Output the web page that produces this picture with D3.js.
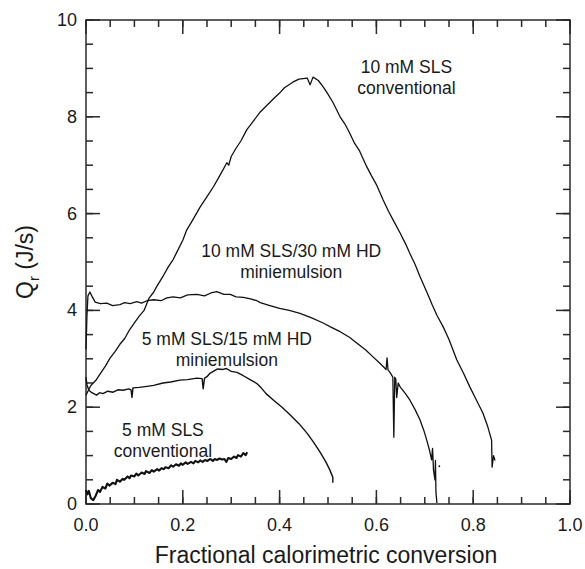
<!DOCTYPE html>
<html>
<head>
<meta charset="utf-8">
<script src="https://cdn.jsdelivr.net/npm/d3@7"></script>
<style>
  html, body { margin: 0; padding: 0; background: #fff; }
  svg text { font-family: "Liberation Sans", Arial, sans-serif; fill: #1a1a1a; }
</style>
</head>
<body>
<div id="chart"></div>
<script>
// values (x = fractional conversion, y = Qr in J/s)
const conv10Sls = [[0,2.25],[0.005,2.35],[0.01,2.45],[0.02,2.55],[0.03,2.7],[0.04,2.85],[0.05,3.02],[0.06,3.15],[0.07,3.3],[0.08,3.42],[0.09,3.6],[0.1,3.74],[0.11,3.88],[0.12,4.0],[0.13,4.25],[0.14,4.38],[0.146,4.49],[0.16,4.72],[0.17,4.9],[0.18,5.05],[0.188,5.21],[0.2,5.45],[0.208,5.66],[0.22,5.86],[0.236,6.14],[0.25,6.35],[0.263,6.55],[0.275,6.76],[0.291,7.05],[0.295,7.0],[0.3,7.18],[0.31,7.35],[0.32,7.5],[0.332,7.73],[0.345,7.9],[0.36,8.1],[0.375,8.25],[0.39,8.4],[0.4,8.49],[0.41,8.6],[0.428,8.72],[0.44,8.78],[0.457,8.8],[0.463,8.66],[0.469,8.82],[0.48,8.75],[0.49,8.62],[0.498,8.5],[0.51,8.3],[0.525,8.0],[0.535,7.85],[0.545,7.66],[0.555,7.45],[0.565,7.3],[0.58,6.97],[0.59,6.78],[0.6,6.6],[0.614,6.28],[0.625,6.05],[0.635,5.86],[0.649,5.6],[0.66,5.38],[0.669,5.18],[0.68,4.95],[0.69,4.7],[0.705,4.36],[0.715,4.12],[0.725,3.9],[0.738,3.66],[0.75,3.4],[0.766,2.98],[0.78,2.7],[0.793,2.42],[0.805,2.18],[0.82,1.88],[0.83,1.6],[0.838,1.32],[0.839,0.76],[0.842,1.0],[0.845,0.9]];

const mini10Sls = [[0,3.2],[0.002,3.9],[0.004,4.3],[0.008,4.38],[0.012,4.3],[0.019,4.17],[0.03,4.14],[0.043,4.15],[0.055,4.1],[0.07,4.12],[0.08,4.16],[0.091,4.14],[0.105,4.18],[0.115,4.15],[0.126,4.2],[0.14,4.22],[0.155,4.2],[0.167,4.26],[0.18,4.28],[0.195,4.26],[0.21,4.32],[0.229,4.33],[0.245,4.3],[0.258,4.36],[0.27,4.39],[0.285,4.33],[0.298,4.33],[0.31,4.28],[0.325,4.27],[0.34,4.24],[0.353,4.2],[0.36,4.16],[0.38,4.1],[0.4,4.04],[0.42,4.0],[0.442,3.94],[0.465,3.85],[0.49,3.74],[0.505,3.66],[0.525,3.56],[0.545,3.44],[0.56,3.32],[0.578,3.18],[0.593,3.04],[0.605,2.93],[0.614,2.84],[0.62,2.78],[0.622,3.02],[0.624,2.77],[0.628,2.72],[0.634,2.62],[0.636,1.38],[0.638,2.62],[0.64,2.58],[0.642,2.2],[0.645,2.5],[0.649,2.42],[0.66,2.28],[0.669,2.15],[0.68,1.95],[0.69,1.74],[0.698,1.52],[0.704,1.32],[0.71,1.1],[0.714,0.91],[0.716,1.15],[0.718,0.7],[0.721,0.5],[0.722,0.9],[0.723,0.25],[0.725,0.02]];

const mini5Sls = [[0,2.62],[0.002,2.46],[0.006,2.35],[0.012,2.3],[0.022,2.25],[0.028,2.3],[0.035,2.28],[0.045,2.33],[0.056,2.31],[0.066,2.36],[0.077,2.35],[0.088,2.38],[0.093,2.36],[0.095,2.2],[0.097,2.4],[0.11,2.41],[0.126,2.43],[0.14,2.45],[0.159,2.5],[0.175,2.52],[0.194,2.56],[0.21,2.57],[0.229,2.6],[0.24,2.59],[0.242,2.38],[0.245,2.6],[0.25,2.63],[0.256,2.7],[0.263,2.74],[0.272,2.79],[0.283,2.78],[0.29,2.8],[0.3,2.74],[0.312,2.72],[0.325,2.65],[0.339,2.57],[0.353,2.49],[0.362,2.4],[0.372,2.28],[0.387,2.15],[0.405,2.0],[0.421,1.85],[0.44,1.66],[0.457,1.46],[0.47,1.28],[0.483,1.08],[0.495,0.88],[0.504,0.7],[0.51,0.55],[0.51,0.44]];

const conv5Sls = [[0,0.29],[0.003,0.2],[0.006,0.27],[0.01,0.12],[0.015,0.08],[0.02,0.17],[0.025,0.29],[0.029,0.25],[0.034,0.35],[0.04,0.32],[0.044,0.42],[0.049,0.38],[0.055,0.44],[0.061,0.41],[0.064,0.5],[0.07,0.46],[0.076,0.52],[0.079,0.5],[0.086,0.57],[0.09,0.53],[0.093,0.59],[0.1,0.57],[0.104,0.63],[0.108,0.59],[0.115,0.65],[0.121,0.62],[0.124,0.68],[0.131,0.64],[0.136,0.7],[0.14,0.67],[0.147,0.72],[0.151,0.69],[0.156,0.74],[0.161,0.72],[0.164,0.76],[0.171,0.74],[0.176,0.8],[0.18,0.77],[0.186,0.82],[0.192,0.79],[0.196,0.84],[0.2,0.81],[0.206,0.86],[0.21,0.83],[0.217,0.87],[0.222,0.84],[0.226,0.89],[0.232,0.86],[0.236,0.9],[0.241,0.87],[0.246,0.91],[0.251,0.89],[0.257,0.93],[0.262,0.89],[0.266,0.93],[0.271,0.91],[0.276,0.94],[0.281,0.92],[0.286,0.93],[0.29,0.87],[0.294,0.95],[0.3,0.93],[0.306,0.98],[0.311,0.95],[0.314,1.01],[0.32,0.98],[0.325,1.05],[0.33,1.01],[0.333,1.07]];

const strayPoints = [[0.73,0.78]];

const xMajorTicks = [0, 0.2, 0.4, 0.6, 0.8, 1.0];
const yMajorTicks = [0, 2, 4, 6, 8, 10];

const annotations = [
  { x: 0.662, y: 8.9, lines: ["10 mM SLS", "conventional"] },
  { x: 0.424, y: 5.1, lines: ["10 mM SLS/30 mM HD", "miniemulsion"] },
  { x: 0.291, y: 3.29, lines: ["5 mM SLS/15 mM HD", "miniemulsion"] },
  { x: 0.159, y: 1.4, lines: ["5 mM SLS", "conventional"] }
];

const W = 585, H = 569;
const margin = { top: 20, right: 15, bottom: 65, left: 86 };
const plotW = W - margin.left - margin.right;
const plotH = H - margin.top - margin.bottom;

const svg = d3.select("#chart").append("svg").attr("width", W).attr("height", H);
const chart = svg.append("g").attr("transform", `translate(${margin.left},${margin.top})`);

const x = d3.scaleLinear().domain([0, 1]).range([0, plotW]);
const y = d3.scaleLinear().domain([0, 10]).range([plotH, 0]);

const xMinor = d3.range(0, 21).map(i => i * 0.05);
const yMinor = d3.range(0, 21).map(i => i * 0.5);
const axisColor = "#2a2a2a";

chart.append("rect").attr("width", plotW).attr("height", plotH)
  .attr("fill", "none").attr("stroke", axisColor).attr("stroke-width", 1.5);

// inward ticks on all four sides
const tickG = chart.append("g").attr("fill", axisColor);
function addTicks(xv, yv, len) {
  [plotH - len, 0].forEach(top => {
    tickG.selectAll(null).data(xv).enter().append("rect")
      .attr("x", d => x(d) - 0.75).attr("y", top).attr("width", 1.5).attr("height", len);
  });
  [0, plotW - len].forEach(left => {
    tickG.selectAll(null).data(yv).enter().append("rect")
      .attr("y", d => y(d) - 0.75).attr("x", left).attr("height", 1.5).attr("width", len);
  });
}
addTicks(xMinor, yMinor, 7);
addTicks(xMajorTicks, yMajorTicks, 14);

// tick labels
chart.selectAll(".xl").data(xMajorTicks).enter().append("text")
  .attr("x", d => x(d)).attr("y", plotH + 27).attr("text-anchor", "middle")
  .style("font-size", "18px").text(d3.format(".1f"));
chart.selectAll(".yl").data(yMajorTicks).enter().append("text")
  .attr("x", -9).attr("y", d => y(d) + 6).attr("text-anchor", "end")
  .style("font-size", "18px").text(d3.format("d"));

const line = d3.line().x(d => x(d[0])).y(d => y(d[1]));

[
  { data: conv10Sls, w: 1.3 },
  { data: mini10Sls, w: 1.3 },
  { data: mini5Sls, w: 1.4 },
  { data: conv5Sls, w: 2.1 }
].forEach(s => {
  chart.append("path").datum(s.data)
    .attr("fill", "none").attr("stroke", "#111").attr("stroke-width", s.w)
    .attr("stroke-linejoin", "round").attr("d", line);
});

chart.selectAll(".stray").data(strayPoints).enter().append("circle")
  .attr("cx", d => x(d[0])).attr("cy", d => y(d[1])).attr("r", 0.9).attr("fill", "#111");

// curve labels, one text element per line
annotations.forEach(a => {
  a.lines.forEach((s, i) => {
    chart.append("text").attr("text-anchor", "middle")
      .attr("x", x(a.x)).attr("y", y(a.y) + i * 21)
      .style("font-size", "17.5px").text(s);
  });
});

// axis titles
svg.append("text").attr("x", margin.left + plotW / 2 - 2).attr("y", 563)
  .attr("text-anchor", "middle").style("font-size", "23px")
  .text("Fractional calorimetric conversion");

const yTitle = svg.append("text")
  .attr("transform", `translate(33,${margin.top + plotH / 2}) rotate(-90)`)
  .attr("text-anchor", "middle").style("font-size", "23px");
yTitle.append("tspan").text("Q");
yTitle.append("tspan").attr("dy", 6).style("font-size", "15px").text("r");
yTitle.append("tspan").attr("dy", -6).text(" (J/s)");
</script>
</body>
</html>
